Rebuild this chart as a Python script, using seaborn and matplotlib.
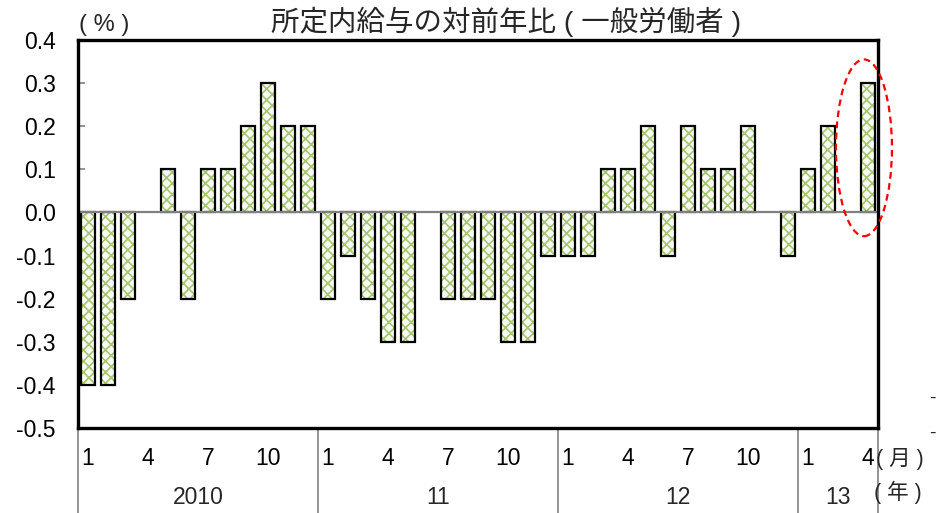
import numpy as np
import pandas as pd
import matplotlib
matplotlib.use("Agg")
import matplotlib.pyplot as plt
import matplotlib.transforms as mtransforms
from matplotlib.patches import Ellipse, Rectangle
import seaborn as sns

# ---------------- data ----------------
years = ["2010", "11", "12", "13"]
months_per_year = [12, 12, 12, 4]
values_2010 = [-0.4, -0.4, -0.2, 0.0, 0.1, -0.2, 0.1, 0.1, 0.2, 0.3, 0.2, 0.2]
values_2011 = [-0.2, -0.1, -0.2, -0.3, -0.3, 0.0, -0.2, -0.2, -0.2, -0.3, -0.3, -0.1]
values_2012 = [-0.1, -0.1, 0.1, 0.1, 0.2, -0.1, 0.2, 0.1, 0.1, 0.2, 0.0, -0.1]
values_2013 = [0.1, 0.2, 0.0, 0.3]
month_tick_labels = ["1", "4", "7", "10"]
yticks = [-0.5, -0.4, -0.3, -0.2, -0.1, 0.0, 0.1, 0.2, 0.3, 0.4]
title = "所定内給与の対前年比 ( 一般労働者 )"

values = values_2010 + values_2011 + values_2012 + values_2013
periods = []
for y, n in zip(years, months_per_year):
    for m in range(1, n + 1):
        periods.append(f"{y}-{m:02d}")
df = pd.DataFrame({"period": periods, "value": values})

# ---------------- style ----------------
sns.set_theme(style="white")
plt.rcParams["font.family"] = ["Liberation Sans", "Noto Sans CJK JP", "DejaVu Sans"]
plt.rcParams["hatch.linewidth"] = 1.25

fig, ax = plt.subplots(figsize=(9.38, 5.13), dpi=100)
fig.subplots_adjust(left=0.0832, right=0.936, top=0.922, bottom=0.1657)

hatch_green = "#a6c772"
sns.barplot(data=df, x="period", y="value", order=periods, color="#fbfdf7",
            edgecolor=hatch_green, linewidth=0, hatch="xxx", width=0.74,
            ax=ax, zorder=2)
# black outlines for each bar (skip zero-height bars)
for p in list(ax.patches):
    if abs(p.get_height()) > 1e-9:
        ax.add_patch(Rectangle(p.get_xy(), p.get_width(), p.get_height(),
                               fill=False, edgecolor="black", linewidth=1.6,
                               zorder=3))

ax.axhline(0, color="#808080", lw=1.6, zorder=4)

ax.set_xlim(-0.5, len(periods) - 0.5)
ax.set_ylim(-0.5, 0.4)
ax.set_yticks(yticks)
ax.set_yticklabels([f"{v:.1f}" for v in yticks])
ax.tick_params(axis="y", direction="in", length=5, width=1.2, color="#808080",
               pad=16, labelsize=16.5, labelcolor="black", left=True)

# month ticks
xt, xl = [], []
start = 0
for y, n in zip(years, months_per_year):
    for lab in month_tick_labels:
        m = int(lab)
        if m <= n:
            xt.append(start + m - 1)
            xl.append(lab)
    start += n
ax.set_xticks(xt)
ax.set_xticklabels(xl)
ax.tick_params(axis="x", length=0, pad=14, labelsize=16.5, labelcolor="black")
ax.set_xlabel("")
ax.set_ylabel("")

for s in ax.spines.values():
    s.set_visible(True)
    s.set_color("black")
    s.set_linewidth(2.4)
    s.set_zorder(6)

# year separators and year labels
trans = mtransforms.blended_transform_factory(ax.transData, ax.transAxes)
bounds = [-0.5]
acc = -0.5
for n in months_per_year:
    acc += n
    bounds.append(acc)
for b in bounds:
    ax.plot([b, b], [0, -0.225], transform=trans, color="#8c8c8c", lw=1.3,
            clip_on=False, zorder=1)
for i, y in enumerate(years):
    ax.text((bounds[i] + bounds[i + 1]) / 2, -0.178, y, transform=trans,
            ha="center", va="center", fontsize=16.5)

# highlight ellipse
ax.add_patch(Ellipse((38.8, 0.15), width=2.8, height=0.41, fill=False,
                     edgecolor="red", linestyle=(0, (3, 2)), linewidth=1.6,
                     clip_on=False, zorder=7))

# texts
mixed = ["Liberation Sans", "Noto Sans CJK JP", "DejaVu Sans"]
fig.text(506 / 938, 1 - 22 / 513, title,
         ha="center", va="center", fontsize=20.5, family=mixed)
fig.text(79 / 938, 1 - 25 / 513, "( % )", ha="left", va="center",
         fontsize=17, family=mixed)
fig.text(876 / 938, 1 - 459 / 513, "( 月 )", ha="left", va="center",
         fontsize=15.5, family=mixed)
fig.text(874 / 938, 1 - 492 / 513, "( 年 )", ha="left", va="center",
         fontsize=15.5, family=mixed)
fig.text(932 / 938, 1 - 398 / 513, "-", ha="center", va="center", fontsize=14)
fig.text(932 / 938, 1 - 433 / 513, "-", ha="center", va="center", fontsize=14)

fig.savefig("out.png", dpi=100)
